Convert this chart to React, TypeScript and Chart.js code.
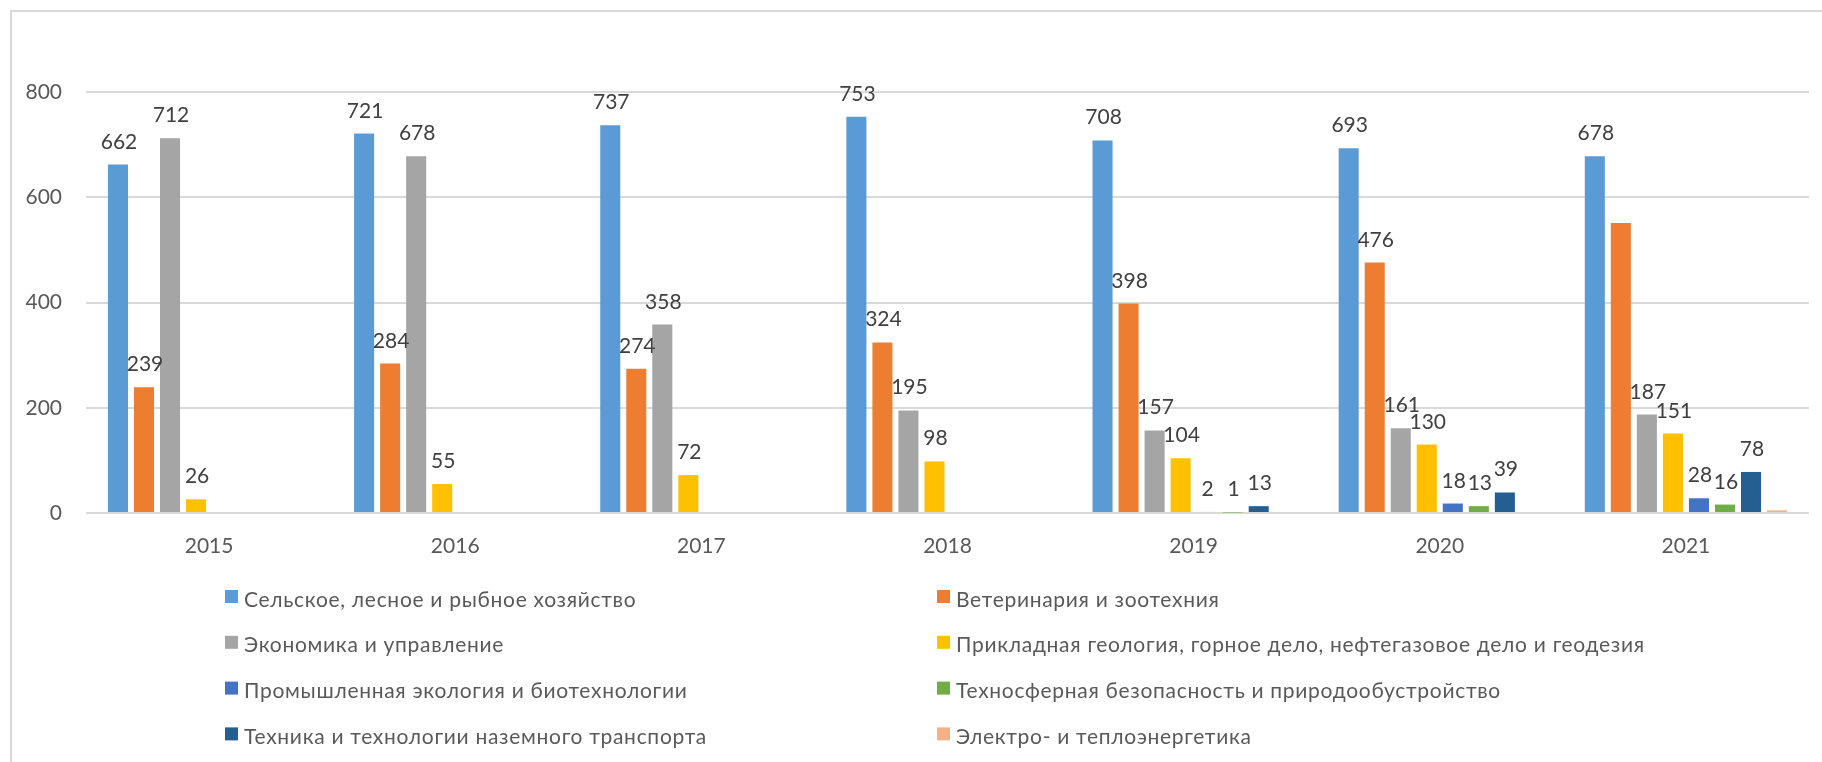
import React, { useEffect, useRef } from "react";
import { Chart, registerables } from "chart.js";

Chart.register(...registerables);

const categories = ["2015", "2016", "2017", "2018", "2019", "2020", "2021"];

const seriesNames = [
  "Сельское, лесное и рыбное хозяйство",
  "Ветеринария и зоотехния",
  "Экономика и управление",
  "Прикладная геология, горное дело, нефтегазовое дело и геодезия",
  "Промышленная экология и биотехнологии",
  "Техносферная безопасность и природообустройство",
  "Техника и технологии наземного транспорта",
  "Электро- и теплоэнергетика",
];

const agriculture = [662, 721, 737, 753, 708, 693, 678];
const veterinary = [239, 284, 274, 324, 398, 476, 551];
const economics = [712, 678, 358, 195, 157, 161, 187];
const geology = [26, 55, 72, 98, 104, 130, 151];
const ecology = [null, null, null, null, 2, 18, 28];
const technosphere = [null, null, null, null, 1, 13, 16];
const transport = [null, null, null, null, 13, 39, 78];
const energy = [null, null, null, null, null, null, 5];

const seriesValues = [agriculture, veterinary, economics, geology, ecology, technosphere, transport, energy];

// Data labels that the reference does not show: [series index, category index]
const hiddenLabels = [
  [1, 6],
  [7, 6],
];

const colors = ["#5b9bd5", "#ed7d31", "#a5a5a5", "#ffc000", "#4472c4", "#70ad47", "#255e91", "#f4b183"];

const yTicks = [0, 200, 400, 600, 800];

const FONT = "Lato, 'Open Sans', sans-serif";

const framePlugin = {
  id: "frame",
  beforeDraw(chart: any) {
    const ctx = chart.ctx;
    ctx.save();
    ctx.fillStyle = "#ffffff";
    ctx.fillRect(0, 0, chart.width, chart.height);
    ctx.strokeStyle = "#d9d9d9";
    ctx.lineWidth = 2;
    ctx.beginPath();
    ctx.moveTo(11, chart.height + 5);
    ctx.lineTo(11, 11);
    ctx.lineTo(chart.width + 5, 11);
    ctx.stroke();
    ctx.restore();
  },
};

const labelPlugin = {
  id: "valueLabels",
  afterDatasetsDraw(chart: any) {
    const ctx = chart.ctx;
    ctx.save();
    ctx.font = `21px ${FONT}`;
    ctx.fillStyle = "#404040";
    ctx.textAlign = "center";
    ctx.textBaseline = "alphabetic";
    chart.data.datasets.forEach((ds: any, di: number) => {
      const meta = chart.getDatasetMeta(di);
      meta.data.forEach((el: any, i: number) => {
        const v = ds.data[i];
        if (v === null || v === undefined) return;
        if (hiddenLabels.some(([s, c]) => s === di && c === i)) return;
        ctx.fillText(String(v), el.x + 1, el.y - 16);
      });
    });
    ctx.restore();
  },
};

const legendPlugin = {
  id: "gridLegend",
  afterDraw(chart: any) {
    const ctx = chart.ctx;
    const colX = [225, 937];
    const rowY0 = 596.5;
    const rowStep = 45.8;
    ctx.save();
    ctx.font = `21px ${FONT}`;
    (ctx as any).letterSpacing = "0.7px";
    ctx.textBaseline = "alphabetic";
    ctx.textAlign = "left";
    chart.data.datasets.forEach((ds: any, i: number) => {
      const x = colX[i % 2];
      const y = rowY0 + Math.floor(i / 2) * rowStep;
      ctx.fillStyle = ds.backgroundColor;
      ctx.fillRect(x, y - 6.5, 13, 13);
      ctx.fillStyle = "#595959";
      ctx.fillText(ds.label, x + 19, y + 10);
    });
    ctx.restore();
  },
};

export default function App() {
  const ref = useRef<HTMLCanvasElement | null>(null);

  useEffect(() => {
    document.body.style.margin = "0";
    const canvas = ref.current;
    if (!canvas) return;
    const chart = new Chart(canvas, {
      type: "bar",
      data: {
        labels: categories,
        datasets: seriesValues.map((vals, i) => ({
          label: seriesNames[i],
          data: vals,
          backgroundColor: colors[i],
          borderWidth: 0,
          categoryPercentage: 0.846,
          barPercentage: 0.77,
        })),
      },
      options: {
        animation: false,
        responsive: false,
        maintainAspectRatio: false,
        layout: { padding: { left: 0, right: 13, top: 92, bottom: 189 } },
        plugins: {
          legend: { display: false },
          tooltip: { enabled: false },
          title: { display: false },
        },
        scales: {
          x: {
            grid: { display: false, drawTicks: false },
            border: { display: false },
            ticks: {
              color: "#595959",
              font: { family: FONT, size: 21 },
              padding: 21,
              maxRotation: 0,
            },
            afterFit(scale: any) {
              scale.height = 60;
            },
          },
          y: {
            min: 0,
            max: 800,
            afterBuildTicks(scale: any) {
              scale.ticks = yTicks.map((v) => ({ value: v }));
            },
            grid: { color: "#d9d9d9", lineWidth: 2, drawTicks: false },
            border: { display: false },
            ticks: {
              color: "#595959",
              font: { family: FONT, size: 21 },
              padding: 24,
            },
            afterFit(scale: any) {
              scale.width = 86;
            },
          },
        },
      },
      plugins: [framePlugin, labelPlugin, legendPlugin],
    });
    return () => chart.destroy();
  }, []);

  return (
    <div style={{ width: 1822, height: 762 }}>
      <canvas ref={ref} width={1822} height={762} style={{ display: "block" }} />
    </div>
  );
}
